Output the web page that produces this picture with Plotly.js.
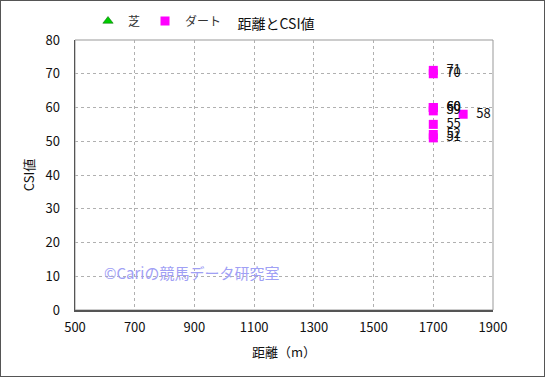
<!DOCTYPE html>
<html><head><meta charset="utf-8">
<script src="https://cdn.plot.ly/plotly-3.0.1.min.js"></script>
<style>
body{margin:0;padding:0;background:#fff;}
#wrap{width:545px;height:377px;box-sizing:border-box;border:1px solid #555;}
#chart{width:543px;height:375px;}
</style></head>
<body><div id="wrap"><div id="chart"></div></div>
<script>
// 芝 (turf): no points
const turfDist = [];
const turfCSI = [];
// ダート (dirt)
const dirtDist = [1700, 1700, 1700, 1700, 1700, 1700, 1700, 1700, 1800];
const dirtCSI  = [71, 70, 60, 60, 59, 55, 52, 51, 58];
const dirtLabels = dirtCSI.map(String);
const xTicks = [500, 700, 900, 1100, 1300, 1500, 1700, 1900];
const yTicks = [0, 10, 20, 30, 40, 50, 60, 70, 80];

const font = 'Noto Sans CJK JP, sans-serif';

const traces = [
  {type:'scatter', mode:'markers', name:'芝', x:turfDist.length?turfDist:[null], y:turfCSI.length?turfCSI:[null],
   marker:{symbol:'triangle-up', color:'#00cc00', size:9, line:{color:'#006600', width:0.5}}},
  {type:'scatter', mode:'markers+text', name:'ダート', x:dirtDist, y:dirtCSI, text:dirtLabels,
   texttemplate:'\u2002%{text}',
   textposition:'middle right', textfont:{family:font, size:13, color:'#111'},
   marker:{symbol:'square', color:'#ff00ff', size:9}}
];

const layout = {
  width:543, height:375,
  margin:{l:74, r:51, t:39, b:66},
  paper_bgcolor:'#fff', plot_bgcolor:'#fff',
  font:{family:font, size:12, color:'#222'},
  title:{text:'距離とCSI値', font:{family:font, size:14, color:'#111'}, xref:'paper', x:(276-75)/418, xanchor:'center', yref:'container', y:1-23/375, yanchor:'middle'},
  showlegend:true,
  legend:{orientation:'h', x:13/418, xanchor:'left', y:1-20/375, yref:'container', yanchor:'middle', font:{family:font, size:12, color:'#333'}, itemwidth:30, bgcolor:'rgba(0,0,0,0)'},
  xaxis:{range:[500,1900], tickvals:xTicks, ticktext:xTicks.map(String), showgrid:true, gridcolor:'#b0b0b0', griddash:'dot', gridwidth:1,
         zeroline:false, showline:true, linecolor:'#555', linewidth:1.5, ticks:'', tickfont:{size:13, color:'#111'}, ticklabelstandoff:5,
         title:{text:'距離（m）', font:{size:13, color:'#111'}, standoff:13}},
  yaxis:{range:[0,80], tickvals:yTicks, ticktext:yTicks.map(String), showgrid:true, gridcolor:'#b0b0b0', griddash:'dot', gridwidth:1,
         zeroline:false, showline:true, linecolor:'#555', linewidth:1.5, ticks:'', tickfont:{size:13, color:'#111'}, ticklabelstandoff:11,
         title:{text:'CSI値', font:{size:13, color:'#111'}, standoff:8}},
  shapes:[{type:'rect', xref:'paper', yref:'paper', x0:0, x1:1, y0:0, y1:1, line:{color:'#999', width:1}, layer:'below'}],
  annotations:[{text:'©Cariの競馬データ研究室', xref:'x', yref:'y', x:590, y:11.2, xanchor:'left', yanchor:'middle', showarrow:false,
    font:{family:font, size:15, color:'#a0a0f5'}}]
};
Plotly.newPlot('chart', traces, layout, {displayModeBar:false, staticPlot:true});
</script></body></html>
